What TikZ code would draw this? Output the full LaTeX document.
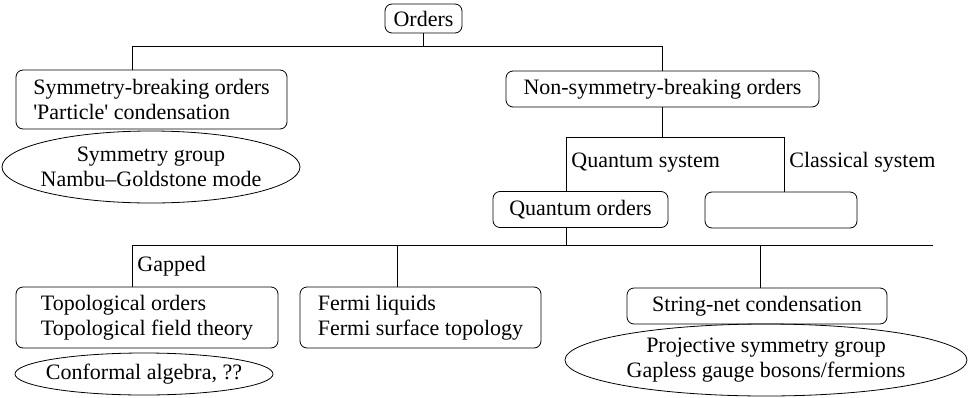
\documentclass[tikz,border=0pt]{standalone}
\usepackage{fontspec}
\setmainfont{Liberation Serif}
\usepackage{tikz}
\usetikzlibrary{positioning,calc}

\begin{document}
\begin{tikzpicture}[x=1pt,y=-1pt,line width=0.8pt,
	box/.style={draw,rounded corners=7pt,align=left,inner sep=0pt},
	lbl/.style={anchor=base west,inner sep=0pt}]
	\fontsize{22}{25}\selectfont
	\useasboundingbox (0,0) rectangle (970,397);
	% positions of the branch lines
	\coordinate (bar1) at (0,46);
	\coordinate (bar2) at (0,137);
	\coordinate (bar3) at (0,245);
	\coordinate (lft) at (132,0);
	\coordinate (qx) at (566,0);
	\coordinate (cx) at (784,0);
	\coordinate (fx) at (397,0);
	\coordinate (sx) at (760,0);
	\coordinate (rend) at (933,0);
	% boxes
	\node[box,minimum width=77pt,minimum height=29pt] (orders) at (423.5,18.5) {Orders};
	\node[box,minimum width=271pt,minimum height=59pt] (sym) at (151.5,99.5) {Symmetry-breaking orders\\\textquotesingle Particle\textquotesingle{} condensation};
	\node[box,minimum width=313pt,minimum height=36pt] (nonsym) at (662.5,89) {Non-symmetry-breaking orders};
	\node[box,minimum width=175pt,minimum height=36pt] (qorders) at (580.5,209.5) {Quantum orders};
	\node[box,minimum width=152pt,minimum height=36pt] (classical) at (781,210) {};
	\node[box,minimum width=262pt,minimum height=61pt] (topo) at (147,317.5) {Topological orders\\Topological field theory};
	\node[box,minimum width=241pt,minimum height=61pt] (fermi) at (420.5,317.5) {Fermi liquids\\Fermi surface topology};
	\node[box,minimum width=260pt,minimum height=36pt] (string) at (757,306) {String-net condensation};
	% ovals
	\node[align=center,inner sep=0pt] (symoval) at (151,167) {Symmetry group\\Nambu--Goldstone mode};
	\draw (symoval.center) ellipse [x radius=149pt,y radius=36pt];
	\node[inner sep=0pt] (topooval) at (144,374) {Conformal algebra, ??};
	\draw (topooval.center) ellipse [x radius=129pt,y radius=21pt];
	\node[align=center,inner sep=0pt] (stringoval) at (766,360) {Projective symmetry group\\Gapless gauge bosons/fermions};
	\draw (stringoval.center) ellipse [x radius=201pt,y radius=36pt];
	% labels
	\node[lbl] (qsys) at (571,167) {Quantum system};
	\node[lbl] (csys) at (789,167) {Classical system};
	\node[lbl] (gapped) at (137,271) {Gapped};
	% tree lines
	\draw (orders.south) -- (orders.south |- bar1);
	\draw (sym.north -| lft) |- (bar1 -| nonsym.north) -- (nonsym.north);
	\draw (nonsym.south) -- (nonsym.south |- bar2);
	\draw (qorders.north -| qx) |- (bar2 -| cx) -- (classical.north -| cx);
	\draw (qorders.south -| qx) -- (bar3 -| qx);
	\draw (topo.north -| lft) |- (bar3 -| rend);
	\draw (fermi.north -| fx) -- (bar3 -| fx);
	\draw (string.north -| sx) -- (bar3 -| sx);
\end{tikzpicture}
\end{document}
